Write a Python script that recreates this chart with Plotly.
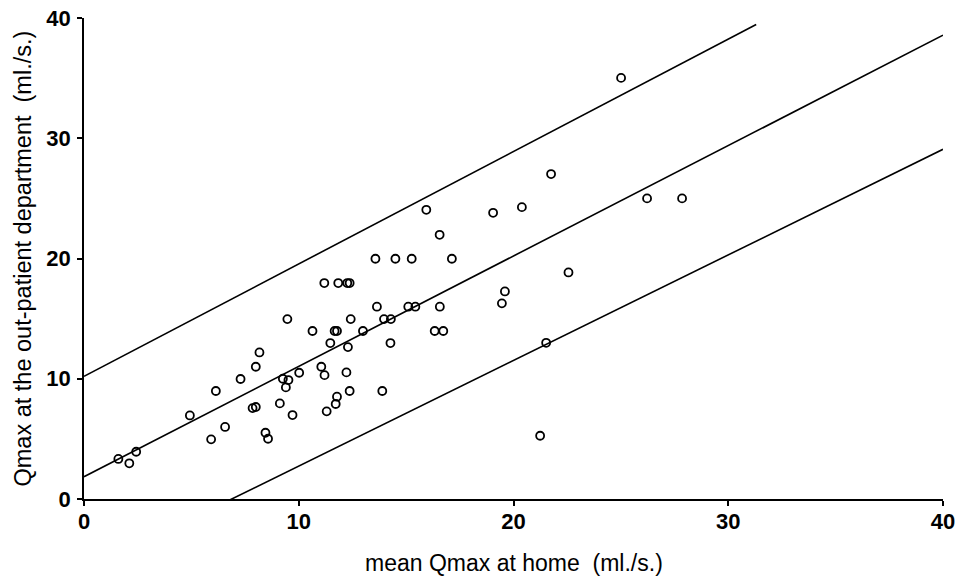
import numpy as np
import plotly.graph_objects as go

# Paired uroflow measurements: mean Qmax at home vs Qmax at the clinic (ml/s)
qmax_home = [
    1.60, 2.11, 2.43, 4.93, 5.92, 6.14, 6.57, 7.29, 7.85, 8.00,
    8.00, 8.17, 8.45, 8.57, 9.12, 9.26, 9.40, 9.52, 9.47, 9.71,
    10.02, 10.64, 11.05, 11.20, 11.30, 11.47, 11.67, 11.78, 11.72, 11.78,
    12.22, 12.29, 12.37, 12.42, 12.99, 13.64, 13.57, 13.89, 13.97, 14.29,
    14.27, 14.50, 15.10, 15.26, 15.43, 15.94, 16.33, 16.56, 16.57, 16.73,
    17.13, 19.05, 19.46, 19.60, 20.39, 21.24, 21.52, 21.75, 22.56, 25.01,
    26.22, 27.85, 11.19, 11.84, 12.26, 12.37,
]
qmax_clinic = [
    3.33, 2.97, 3.93, 6.95, 4.96, 8.98, 5.99, 9.98, 7.56, 7.65,
    11.00, 12.19, 5.51, 5.01, 7.95, 10.00, 9.28, 9.89, 14.96, 6.98,
    10.50, 13.97, 11.00, 10.30, 7.29, 12.97, 13.97, 13.97, 7.90, 8.51,
    10.53, 12.63, 8.98, 14.96, 13.97, 15.99, 19.98, 8.98, 14.96, 14.96,
    12.97, 19.98, 15.99, 19.98, 15.99, 24.05, 13.97, 21.97, 15.99, 13.97,
    19.98, 23.80, 16.27, 17.26, 24.27, 5.26, 12.99, 27.02, 18.84, 35.02,
    25.00, 25.00, 17.96, 17.96, 17.96, 17.96,
]

# Regression line with upper and lower limits: intercepts, slopes, x extent
line_names = ["upper limit", "regression", "lower limit"]
line_intercepts = [10.2, 1.85, -6.04]
line_slopes = [0.935, 0.918, 0.878]
line_x_end = [31.3, 40.0, 40.0]

x_ticks = [0, 10, 20, 30, 40]
y_ticks = [0, 10, 20, 30, 40]

fig = go.Figure()

for name, b0, b1, x_end in zip(line_names, line_intercepts, line_slopes,
                               line_x_end):
    x_line = np.array([0.0, x_end])
    fig.add_trace(go.Scatter(
        x=x_line, y=b0 + b1 * x_line, mode="lines", name=name,
        line=dict(color="black", width=1.6), hoverinfo="skip",
    ))

fig.add_trace(go.Scatter(
    x=qmax_home, y=qmax_clinic, mode="markers", name="patients",
    marker=dict(symbol="circle-open", size=8, color="black",
                line=dict(color="black", width=1.8)),
    cliponaxis=False,
))

tick_font = dict(family="Liberation Sans, Arial, sans-serif", size=22,
                 color="black", weight="bold")
title_font = dict(family="Liberation Sans, Arial, sans-serif", size=23,
                  color="black")

axis_common = dict(
    showgrid=False, zeroline=False, showline=True, linecolor="black",
    linewidth=1.6, ticks="outside", ticklen=5, tickwidth=1.6,
    tickcolor="black", tickfont=tick_font, fixedrange=True,
    automargin=False,
)

fig.update_xaxes(range=[0, 40], tickvals=x_ticks, ticklabelstandoff=-3,
                 **axis_common)
fig.update_yaxes(range=[0, 40], tickvals=y_ticks, ticklabelstandoff=2,
                 **axis_common)

fig.add_annotation(
    text="mean Qmax at home \u00a0(ml./s.)", xref="paper", yref="paper",
    x=0.5, y=0, xanchor="center", yanchor="middle", yshift=-64,
    showarrow=False, font=title_font,
)
fig.add_annotation(
    text="Qmax at the out-patient department \u00a0(ml./s.)",
    xref="paper", yref="paper", x=0, y=0.5, xanchor="center",
    yanchor="middle", xshift=-62, textangle=-90, showarrow=False,
    font=dict(title_font, size=23.5),
)

fig.update_layout(
    width=957, height=581,
    margin=dict(l=84, r=14, t=18, b=82, autoexpand=False),
    paper_bgcolor="white", plot_bgcolor="white",
    showlegend=False,
)

fig.write_html("out.html")
